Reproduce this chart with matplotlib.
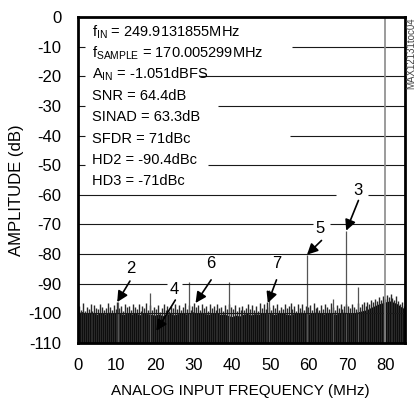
import numpy as np
import matplotlib
matplotlib.use("Agg")
import matplotlib.pyplot as plt

plt.rcParams["font.family"] = ["Liberation Sans", "DejaVu Sans"]
plt.rcParams["mathtext.fontset"] = "custom"
plt.rcParams["mathtext.rm"] = "Liberation Sans"
plt.rcParams["mathtext.it"] = "Liberation Sans"

# ---- data ----
f_nyquist = 85.0026  # MHz
fund_freq = 79.908
fund_db = -0.5

harm_labels = ["2", "3", "4", "5", "6", "7"]
harm_freq = [10.19, 69.72, 20.37, 59.53, 30.56, 49.34]
harm_db = [-96.2, -72.1, -105.9, -80.2, -96.5, -96.5]
harm_line_db = [None, -72.1, None, -80.2, None, None]

spur_freq = [10.4, 18.75, 28.9, 39.3, 49.6, 66.4, 72.9]
spur_db = [-96.0, -93.0, -89.5, -89.5, -92.0, -95.0, -91.0]

floor_freq = np.arange(0, 86)
floor_db = [
    -99.8, -99.4, -100.1, -99.6, -99.9, -100.3, -99.7, -100.2, -99.6, -100.0,
    -99.5, -100.1, -100.3, -99.8, -100.2, -99.7, -100.5, -99.9, -100.1, -100.3,
    -100.6, -100.2, -100.8, -100.3, -99.9, -100.5, -100.1, -99.7, -100.2, -99.8,
    -99.5, -100.0, -99.6, -100.1, -100.3, -99.9, -99.7, -100.4, -100.2, -100.7,
    -101.1, -100.6, -100.9, -100.3, -100.0, -100.5, -100.1, -100.3, -99.8, -100.2,
    -99.9, -100.4, -100.0, -99.7, -100.2, -100.5, -100.1, -99.8, -99.6, -100.0,
    -100.2, -99.8, -99.5, -99.9, -100.2, -99.7, -100.0, -100.3, -99.9, -99.6,
    -99.8, -100.1, -99.7, -99.4, -99.1, -98.8, -98.1, -97.5, -96.9, -96.5,
    -96.1, -95.8, -96.2, -96.8, -97.8, -98.5,
]

spike_freq = np.arange(0.25, 85, 0.5)
spike_db = [
    -97.5, -98.8, -96.6, -99.1, -97.9, -98.4, -96.9, -99.3, -97.2, -98.1,
    -98.6, -96.8, -97.7, -99.0, -98.2, -96.4, -97.8, -98.9, -97.1, -98.5,
    -96.0, -98.3, -97.4, -99.2, -96.7, -98.0, -97.6, -98.8, -96.9, -97.7,
    -98.4, -97.0, -99.1, -97.5, -98.2, -96.5, -98.7, -97.3, -99.0, -97.9,
    -98.6, -97.2, -99.4, -98.1, -97.0, -98.9, -97.6, -99.2, -97.4, -98.3,
    -96.8, -98.5, -97.3, -99.0, -97.8, -96.6, -98.4, -97.1, -98.8, -97.5,
    -96.4, -98.0, -97.2, -98.7, -96.9, -98.3, -97.6, -99.1, -97.0, -98.2,
    -97.4, -98.9, -96.7, -98.1, -97.8, -99.2, -97.3, -98.6, -96.8, -98.0,
    -98.5, -97.1, -99.3, -97.9, -98.7, -97.4, -99.0, -98.2, -96.9, -98.4,
    -97.2, -98.8, -97.6, -99.1, -96.6, -98.3, -97.0, -98.6, -96.3, -97.8,
    -98.9, -97.3, -98.1, -96.7, -99.0, -97.7, -98.4, -96.9, -98.2, -97.5,
    -96.5, -98.6, -97.4, -99.1, -97.0, -98.3, -96.8, -98.7, -97.6, -98.0,
    -97.3, -98.8, -96.4, -98.1, -97.7, -99.0, -97.1, -98.5, -96.9, -97.8,
    -98.4, -96.6, -97.9, -98.9, -97.2, -98.2, -96.8, -98.6, -97.5, -96.9,
    -97.6, -98.3, -96.7, -97.9, -98.5, -96.5, -97.8, -97.0, -96.3, -97.4,
    -96.0, -96.8, -95.4, -96.2, -95.0, -95.8, -94.6, -95.5, -94.2, -95.1,
    -93.8, -94.6, -93.5, -94.9, -95.6, -94.3, -95.9, -96.7, -96.0, -97.4,
]

info_lines = [
    r"f$_{\mathrm{IN}}$ = 249.9131855MHz",
    r"f$_{\mathrm{SAMPLE}}$ = 170.005299MHz",
    r"A$_{\mathrm{IN}}$ = -1.051dBFS",
    "SNR = 64.4dB",
    "SINAD = 63.3dB",
    "SFDR = 71dBc",
    "HD2 = -90.4dBc",
    "HD3 = -71dBc",
]

y_ticks = np.arange(0, -111, -10)
x_ticks = np.arange(0, 81, 10)

# gaps cut into the grid lines by the text boxes (x start, x end) in MHz
grid_gaps = {
    -10: [(1.8, 55.7)],
    -20: [(1.8, 31.8)],
    -30: [(1.8, 36.5)],
    -40: [(1.8, 55.2)],
    -50: [(1.8, 33.9)],
    -60: [(67.0, 75.5)],
    -70: [(61.0, 65.6)],
    -90: [(23.2, 27.1)],
}

# label position, arrow tail for each harmonic (arrow tip = harm_freq, harm_db)
harm_text_pos = [(13.8, -84.7), (72.7, -58.7), (25.0, -91.8), (63.0, -71.2), (34.6, -83.3), (51.6, -83.3)]
harm_arrow_tail = [(13.5, -89.1), (72.9, -61.9), (25.3, -95.5), (63.3, -75.4), (34.6, -88.7), (51.6, -88.7)]

# ---- figure ----
fig = plt.figure(figsize=(4.17, 4.0), dpi=100)
ax = fig.add_axes([78 / 417, 57 / 400, 327 / 417, 326 / 400])
ax.set_xlim(0, f_nyquist)
ax.set_ylim(-110, 0)

# grid lines, broken where text sits
for lvl in y_ticks[1:-1]:
    segs = [0]
    for a, b in grid_gaps.get(lvl, []):
        segs += [a, b]
    segs.append(f_nyquist)
    for i in range(0, len(segs), 2):
        ax.hlines(lvl, segs[i], segs[i + 1], color="#1a1a1a", lw=0.8, zorder=1.5)

# noise floor
ax.fill_between(floor_freq, -110, floor_db, color="black", lw=0, zorder=1)
ax.vlines(spike_freq, -110, spike_db, color="#2a2a2a", lw=1.0, zorder=1.2)

# spurs and harmonics
ax.vlines(spur_freq, -110, spur_db, color="#555555", lw=0.9, zorder=1.3)
for f, d in zip(harm_freq, harm_line_db):
    if d is not None:
        ax.vlines(f, -110, d, color="#555555", lw=0.9, zorder=1.3)
ax.vlines(fund_freq, -110, fund_db, color="#8a8a8a", lw=1.2, zorder=1.6)

# harmonic labels with arrows
for lab, pos, tail, f, d in zip(harm_labels, harm_text_pos, harm_arrow_tail, harm_freq, harm_db):
    ax.text(pos[0], pos[1], lab, fontsize=12, ha="center", va="center", zorder=4,
            bbox=dict(facecolor="white", edgecolor="none", pad=1.0))
    ax.annotate("", xy=(f, d), xytext=tail, zorder=4,
                arrowprops=dict(arrowstyle="-|>", color="black", lw=1.2,
                                mutation_scale=16, shrinkA=0, shrinkB=0))

# info text block
for i, line in enumerate(info_lines):
    ax.text(3.6, -5.0 - i * 7.2, line, fontsize=10.5, ha="left", va="center", zorder=4)

ax.set_xticks(x_ticks)
ax.set_yticks(y_ticks)
ax.set_xticklabels([str(v) for v in x_ticks])
ax.set_yticklabels([str(v) for v in y_ticks])
ax.tick_params(length=0, labelsize=12)
ax.tick_params(axis="y", pad=12)
ax.tick_params(axis="x", pad=11)
for s in ax.spines.values():
    s.set_linewidth(2.0)

fig.text(240 / 417, 1 - 391 / 400, "ANALOG INPUT FREQUENCY (MHz)", fontsize=11, ha="center", va="center")
fig.text(17 / 417, 1 - 190 / 400, "AMPLITUDE (dB)", fontsize=12, ha="center", va="center", rotation=90)
fig.text(411 / 417, 1 - 53 / 400, "MAX12131toc04", fontsize=7, ha="center", va="center",
         rotation=90, color="#444444")

fig.savefig("out.png", dpi=100)
